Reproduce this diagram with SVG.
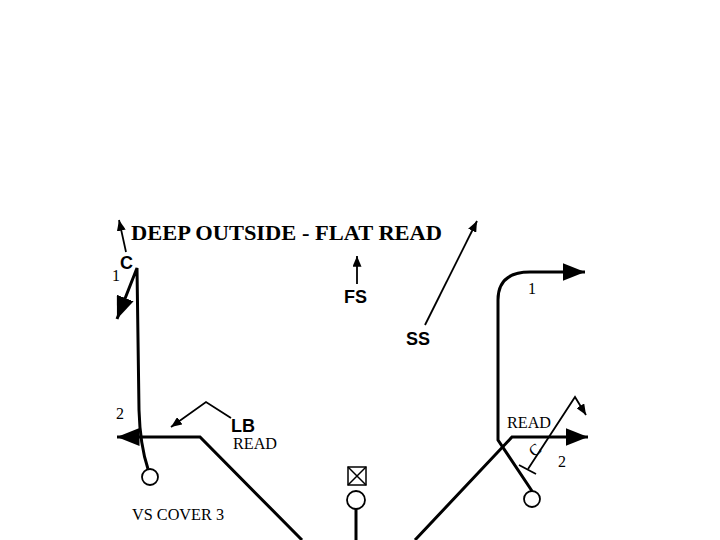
<svg xmlns="http://www.w3.org/2000/svg" width="720" height="540" viewBox="0 0 720 540">
<defs>
<marker id="big" viewBox="0 0 10 10" refX="10" refY="5" markerWidth="7.5" markerHeight="6" markerUnits="strokeWidth" orient="auto" preserveAspectRatio="none"><path d="M0,0 L10,5 L0,10 z" fill="#000"/></marker>
<marker id="small" viewBox="0 0 10 10" refX="10" refY="5" markerWidth="6" markerHeight="5" markerUnits="strokeWidth" orient="auto" preserveAspectRatio="none"><path d="M0,0 L10,5 L0,10 z" fill="#000"/></marker>
</defs>
<style>
.route{fill:none;stroke:#000;stroke-width:3;stroke-linejoin:miter}
.thin{fill:none;stroke:#000;stroke-width:1.8}
.player{fill:#fff;stroke:#000;stroke-width:1.8}
.lbl{font-family:"Liberation Sans",Arial,sans-serif;font-weight:bold;font-size:18px;fill:#000}
.ser{font-family:"Liberation Serif","Times New Roman",serif;font-size:16px;fill:#000}
.title{font-family:"Liberation Serif","Times New Roman",serif;font-weight:bold;font-size:21px;fill:#000}
</style>
<rect width="720" height="540" fill="#fff"/>
<text class="title" x="131" y="240" textLength="311" lengthAdjust="spacingAndGlyphs">DEEP OUTSIDE - FLAT READ</text>
<g id="connectors">
<path class="route" d="M148,469 Q140,445 139,410 L137,268 L117,319" marker-end="url(#big)"/>
<path class="route" d="M302,540 L200,437 L117,437" marker-end="url(#big)"/>
<path class="route" d="M415,540 L512,437 L588,437" marker-end="url(#big)"/>
<path class="route" d="M532,491 L498,440 L498,300 Q498,272 530,272 L585,272" marker-end="url(#big)"/>
<path class="route" d="M356,509 L356,540"/>
<path class="thin" d="M126,252 L119,220" marker-end="url(#small)"/>
<path class="thin" d="M231,418 L206,402 L171,427" marker-end="url(#small)"/>
<path class="thin" d="M357,284 L357,256" marker-end="url(#small)"/>
<path class="thin" d="M425,325 L477,221" marker-end="url(#small)"/>
<path class="thin" d="M528,469 L575,397 L586,415" marker-end="url(#small)"/>
<path class="thin" d="M519,465 L536,474"/>
</g>
<g id="qb"><rect x="348" y="467" width="18" height="18" fill="#fff" stroke="#000" stroke-width="1.5"/><path d="M348,467 L366,485 M366,467 L348,485" stroke="#000" stroke-width="1.5"/></g>
<g id="center"><circle class="player" cx="356" cy="500" r="9"/></g>
<g id="left-wr"><circle class="player" cx="150" cy="477" r="8"/></g>
<g id="right-wr"><circle class="player" cx="532" cy="499" r="8"/></g>
<g id="corner-left"><text class="lbl" x="120" y="269">C</text></g>
<g id="fs"><text class="lbl" x="344" y="303">FS</text></g>
<g id="ss"><text class="lbl" x="406" y="345">SS</text></g>
<g id="lb"><text class="lbl" x="231" y="432">LB</text></g>
<g id="corner-right"><text class="ser" x="529" y="455" font-size="19" transform="rotate(-40 535 449)">C</text></g>
<text class="ser" x="112" y="281">1</text>
<text class="ser" x="116" y="419">2</text>
<text class="ser" x="233" y="449" textLength="44" lengthAdjust="spacingAndGlyphs">READ</text>
<text class="ser" x="528" y="294">1</text>
<text class="ser" x="558" y="467">2</text>
<text class="ser" x="507" y="428" textLength="44" lengthAdjust="spacingAndGlyphs">READ</text>
<text class="ser" x="132" y="520" textLength="92" lengthAdjust="spacingAndGlyphs">VS COVER 3</text>
</svg>
